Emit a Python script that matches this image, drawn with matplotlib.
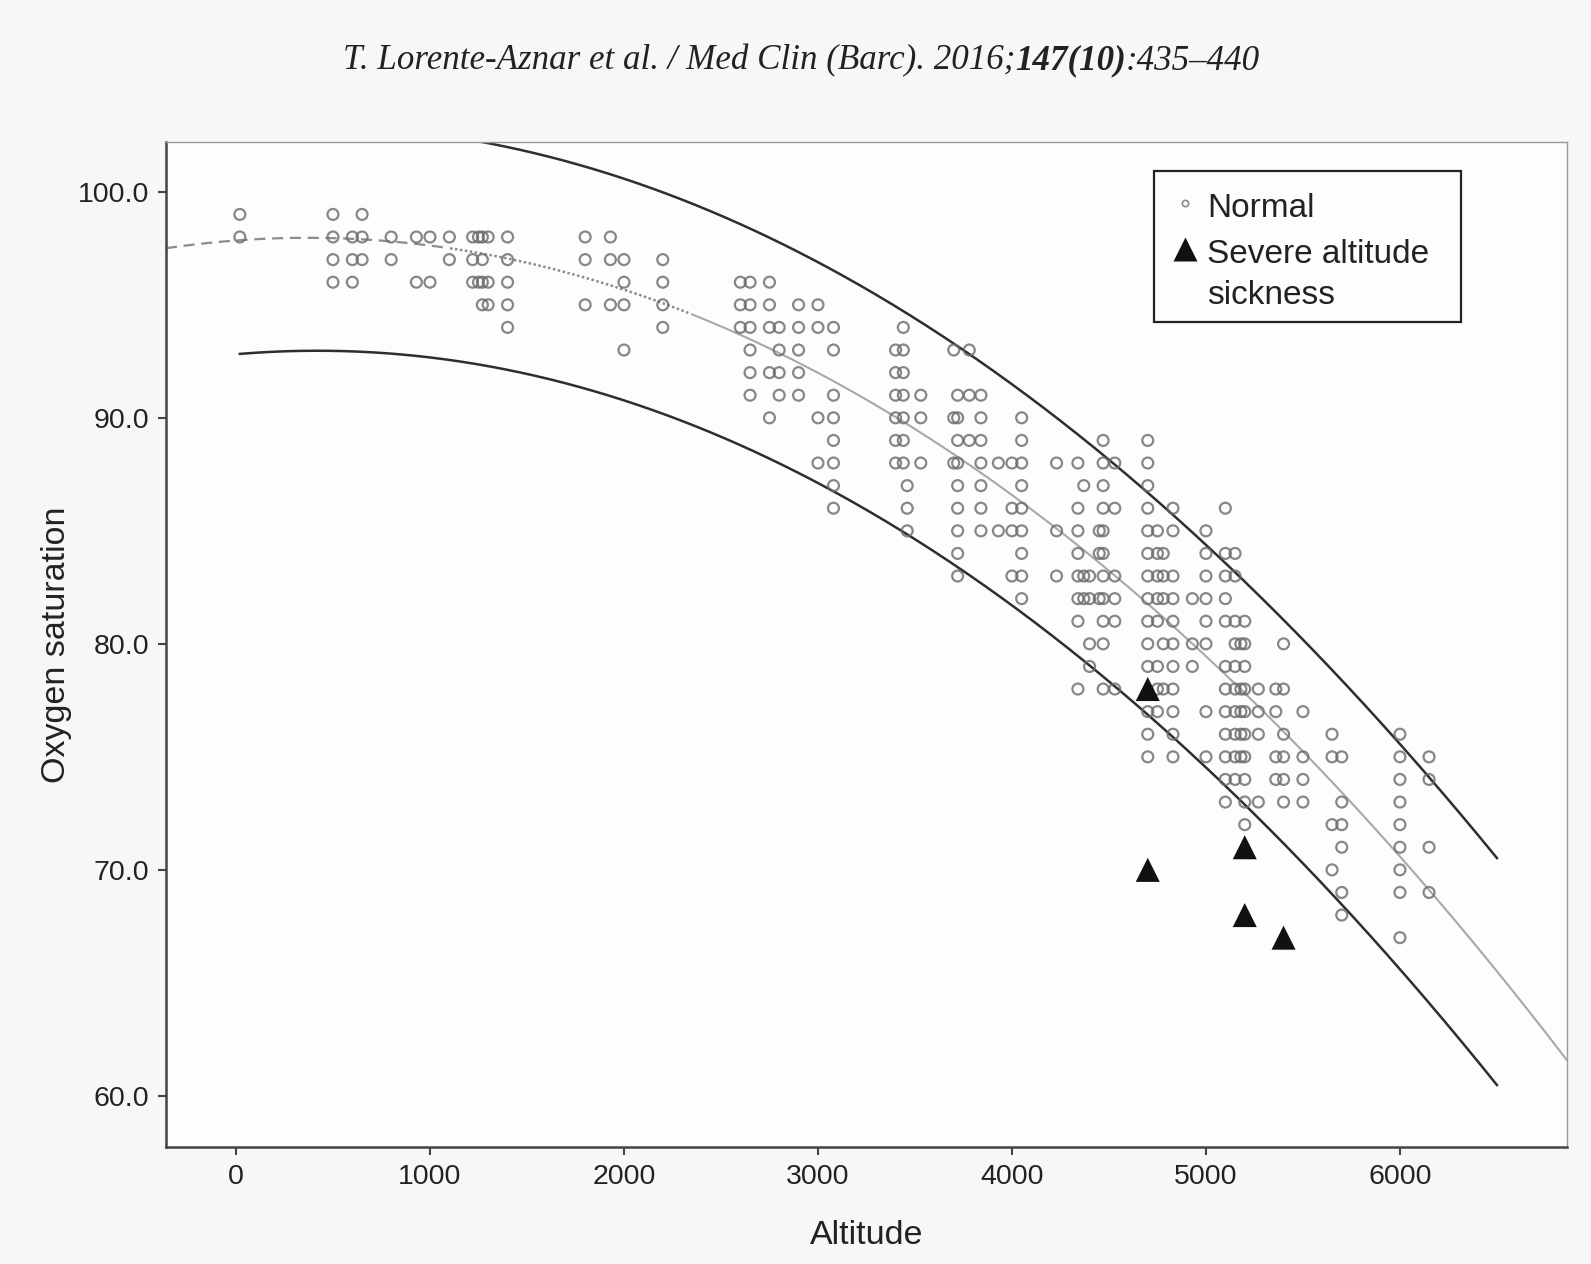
import numpy as np
import matplotlib
matplotlib.use("Agg")
import matplotlib.pyplot as plt
from matplotlib.patches import Rectangle

# altitude groups (m) and the oxygen saturation readings taken at each one
normal_altitude = [
    20, 500, 600, 650, 800, 930, 1000, 1100, 1220, 1250, 1270, 1300, 1400,
    1800, 1930, 2000, 2200, 2600, 2650, 2750, 2800, 2900, 3000, 3080,
    3400, 3440, 3460, 3530, 3700, 3720, 3780, 3840, 3930, 4000, 4050,
    4230, 4340, 4370, 4400, 4450, 4470, 4530, 4700, 4750, 4780, 4830,
    4930, 5000, 5100, 5150, 5180, 5200, 5270, 5360, 5400, 5500, 5650,
    5700, 6000, 6150,
]
normal_spo2 = [
    [99, 98], [99, 98, 97, 96], [98, 97, 96], [99, 98, 97], [98, 97],
    [98, 96], [98, 96], [98, 97], [98, 97, 96], [98, 96], [98, 97, 96, 95],
    [98, 96, 95], [98, 97, 96, 95, 94],
    [98, 97, 95], [98, 97, 95], [97, 96, 95, 93], [97, 96, 95, 94],
    [96, 95, 94], [96, 95, 94, 93, 92, 91], [96, 95, 94, 92, 90],
    [94, 93, 92, 91], [95, 94, 93, 92, 91], [95, 94, 90, 88],
    [94, 93, 91, 90, 89, 88, 87, 86],
    [93, 92, 91, 90, 89, 88], [94, 93, 92, 91, 90, 89, 88], [87, 86, 85],
    [91, 90, 88], [93, 90, 88], [91, 90, 89, 88, 87, 86, 85, 84, 83],
    [93, 91, 89], [91, 90, 89, 88, 87, 86, 85], [88, 85], [88, 86, 85, 83],
    [90, 89, 88, 87, 86, 85, 84, 83, 82],
    [88, 85, 83], [88, 86, 85, 84, 83, 82, 81, 78], [87, 83, 82],
    [83, 82, 80, 79], [85, 84, 82], [89, 88, 87, 86, 85, 84, 83, 82, 81, 80, 78],
    [88, 86, 83, 82, 81, 78],
    [89, 88, 87, 86, 85, 84, 83, 82, 81, 80, 79, 77, 76, 75],
    [85, 84, 83, 82, 81, 79, 78, 77], [84, 83, 82, 80, 78],
    [86, 85, 83, 82, 81, 80, 79, 78, 77, 76, 75],
    [82, 80, 79], [85, 84, 83, 82, 81, 80, 77, 75],
    [86, 84, 83, 82, 81, 79, 78, 77, 76, 75, 74, 73],
    [84, 83, 81, 80, 79, 78, 77, 76, 75, 74], [80, 78, 77, 76, 75],
    [81, 80, 79, 78, 77, 76, 75, 74, 73, 72], [78, 77, 76, 73],
    [78, 77, 75, 74], [80, 78, 76, 75, 74, 73], [77, 75, 74, 73],
    [76, 75, 72, 70], [75, 73, 72, 71, 69, 68],
    [76, 75, 74, 73, 72, 71, 70, 69, 67], [75, 74, 71, 69],
]

# severe altitude sickness cases
severe_altitude = [4700, 4700, 5200, 5200, 5400]
severe_spo2 = [78, 70, 71, 68, 67]

# quadratic fit line and 95% prediction limits, read at a few altitudes
fit_altitude = [-360, 0, 1000, 2000, 3000, 4000, 5000, 6000, 6860]
fit_spo2 = [97.5, 97.85, 97.6, 95.7, 92.0, 86.6, 79.4, 70.6, 61.6]
band_altitude = [20, 1000, 2000, 3000, 4000, 5000, 6000, 6500]
upper_spo2 = [102.9, 102.5, 100.6, 96.9, 91.5, 84.35, 75.6, 70.5]
lower_spo2 = [92.8, 92.7, 90.8, 87.1, 81.7, 74.5, 65.6, 60.5]

x_ticks = [0, 1000, 2000, 3000, 4000, 5000, 6000]
y_ticks = [60.0, 70.0, 80.0, 90.0, 100.0]
x_range = (-361, 6861)
y_range = (57.74, 102.2)

sans = "Liberation Sans"
serif = "Liberation Serif"
ink = "#222222"

fig = plt.figure(figsize=(15.91, 12.64), dpi=100, facecolor="#f7f7f7")
ax = fig.add_axes([0.1043, 0.0926, 0.8806, 0.795])
ax.set_facecolor("#fdfdfd")

xs, ys = [], []
for alt, vals in zip(normal_altitude, normal_spo2):
    xs += [alt] * len(vals)
    ys += vals
ax.scatter(xs, ys, s=62, facecolors="none", edgecolors="#6a6a6a",
           linewidths=1.6, alpha=0.8, zorder=3)
ax.scatter(severe_altitude, severe_spo2, marker="^", s=300, c="#111111",
           edgecolors="none", zorder=4)

# fit line: dashed at low altitude, dotted in the middle, solid above
grid = np.linspace(x_range[0], x_range[1], 800)
center = np.polyval(np.polyfit(fit_altitude, fit_spo2, 2), grid)
low = grid <= 1100
mid = (grid >= 1100) & (grid <= 2350)
high = grid >= 2350
ax.plot(grid[low], center[low], color="#8c8c8c", lw=1.6, ls=(0, (5, 3)), zorder=2)
ax.plot(grid[mid], center[mid], color="#8c8c8c", lw=1.8, ls=(0, (1, 1)), zorder=2)
ax.plot(grid[high], center[high], color="#a8a8a8", lw=1.5, zorder=2)

band_grid = np.linspace(band_altitude[0], band_altitude[-1], 600)
upper = np.polyval(np.polyfit(band_altitude, upper_spo2, 2), band_grid)
lower = np.polyval(np.polyfit(band_altitude, lower_spo2, 2), band_grid)
ax.plot(band_grid, upper, color="#2e2e2e", lw=1.8, zorder=2)
ax.plot(band_grid, lower, color="#2e2e2e", lw=1.8, zorder=2)

ax.set_xlim(*x_range)
ax.set_ylim(*y_range)
ax.set_xticks(x_ticks)
ax.set_yticks(y_ticks)
ax.set_yticklabels([f"{v:.1f}" for v in y_ticks])
ax.tick_params(length=6, width=1.5, color="#444444", labelsize=20.5,
               labelcolor=ink, pad=6)
for lab in ax.get_xticklabels() + ax.get_yticklabels():
    lab.set_family(sans)
for side in ("left", "bottom"):
    ax.spines[side].set_color("#444444")
    ax.spines[side].set_linewidth(1.8)
for side in ("top", "right"):
    ax.spines[side].set_color("#9a9a9a")
    ax.spines[side].set_linewidth(1.0)

ax.set_xlabel("Altitude", fontsize=24.5, family=sans, color=ink, labelpad=22)
ax.set_ylabel("Oxygen saturation", fontsize=24.5, family=sans, color=ink, labelpad=4)

# legend box drawn by hand so the triangle sits on the first label line
tr = ax.transAxes
ax.add_patch(Rectangle((0.705, 0.8212), 0.2195, 0.1504, transform=tr,
                       facecolor="#fdfdfd", edgecolor=ink, lw=1.6, zorder=5))
ax.plot([0.7274], [0.9393], marker="o", ms=4.5, mfc="none", mec="#8a8a8a",
        mew=1.2, transform=tr, zorder=6, clip_on=False)
ax.plot([0.7274], [0.8935], marker="^", ms=17, color="#111111", mec="none",
        transform=tr, zorder=6, clip_on=False)
legend_labels = ["Normal", "Severe altitude", "sickness"]
legend_baselines = [0.9257, 0.8797, 0.8389]
for label, yb in zip(legend_labels, legend_baselines):
    ax.text(0.7434, yb, label, transform=tr, fontsize=24, family=sans,
            color=ink, va="baseline", ha="left", zorder=6)

# journal citation header, with the volume/issue in bold
parts = [("T. Lorente-Aznar et al. / Med Clin (Barc). 2016;", "normal"),
         ("147(10)", "bold"), (":435\u2013440", "normal")]
texts = [fig.text(0, 0.9517, s, family=serif, style="italic", weight=w,
                  fontsize=25.2, color=ink, va="center", ha="left")
         for s, w in parts]
fig.canvas.draw()
renderer = fig.canvas.get_renderer()
widths = [t.get_window_extent(renderer).width for t in texts]
x = 801.6 - sum(widths) / 2
for t, w in zip(texts, widths):
    t.set_x(x / fig.bbox.width)
    x += w

fig.savefig("out.png", dpi=100, facecolor=fig.get_facecolor())
